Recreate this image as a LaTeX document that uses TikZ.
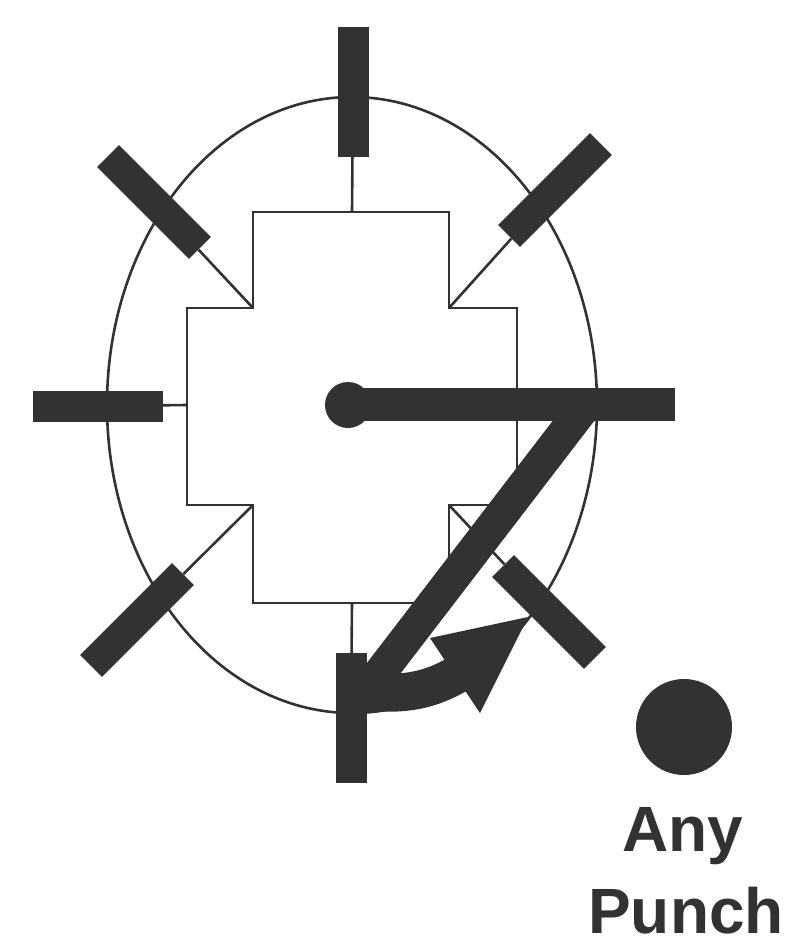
\documentclass[tikz,border=0pt]{standalone}
\usepackage{fontspec}
\setmainfont{Liberation Sans}
\definecolor{ink}{HTML}{323232}
\begin{document}
\begin{tikzpicture}[x=1pt,y=-1pt,
  thinline/.style={draw=ink, line width=2.6pt},
  bar/.style={rectangle, fill=ink, draw=none, inner sep=0pt, minimum width=130pt, minimum height=31pt},
  label/.style={font=\bfseries\fontsize{64}{76}\selectfont, text=ink, anchor=base, inner sep=0pt}
]
\useasboundingbox (0,0) rectangle (796,948);
\fill[white] (0,0) rectangle (796,948);
% outer ellipse
\draw[thinline] (352,405) ellipse [x radius=245pt, y radius=308pt];
% cross outline
\draw[thinline, line join=miter] (253,212) -- (449,212) -- (449,308) -- (517,308) -- (517,505) -- (449,505) -- (449,603) -- (253,603) -- (253,505) -- (187,505) -- (187,308) -- (253,308) -- cycle;
\coordinate (ctop) at (352,212);
\coordinate (cbot) at (352,603);
\coordinate (cleft) at (187,405);
\coordinate (ctl) at (253,308);
\coordinate (ctr) at (449,308);
\coordinate (cbl) at (253,505);
\coordinate (cbr) at (449,505);
% bars
\node[bar, rotate=90] (top) at (353,92) {};
\node[bar, rotate=90] (bottom) at (351,718) {};
\node[bar] (left) at (98,406) {};
\node[bar, rotate=-45] (tl) at (154,202) {};
\node[bar, rotate=45] (tr) at (555,190) {};
\node[bar, rotate=45] (bl) at (137,620) {};
\node[bar, rotate=-45] (br) at (549,612) {};
% stubs
\draw[thinline] (top) -- (ctop);
\draw[thinline] (bottom) -- (cbot);
\draw[thinline] (left) -- (cleft);
\draw[thinline] (tl) -- (ctl);
\draw[thinline] (tr) -- (ctr);
\draw[thinline] (bl) -- (cbl);
\draw[thinline] (br) -- (cbr);
% diagonal bar
\coordinate (dtop) at (591,398);
\coordinate (dbot) at (367,690);
\draw[ink, line width=33pt] (dtop) -- (dbot);
% right bar with ball
\node[bar, minimum width=327pt, minimum height=33pt] (rbar) at (511.5,404.5) {};
\node[circle, fill=ink, inner sep=0pt, minimum size=46pt] (ball) at (348,405) {};
% curved arrow
\coordinate (ashaft) at (360,691);
\coordinate (abase) at (458,674);
\draw[ink, line width=38pt] (ashaft) .. controls (405,696) and (430,690) .. (abase);
\fill[ink] (528,617) -- (430,638) -- (480,713) -- cycle;
% legend
\node[circle, fill=ink, inner sep=0pt, minimum size=96pt] (dot) at (684,727) {};
\node[label] (any) at (683,851) {Any};
\node[label] (punch) at (686,933) {Punch};
\end{tikzpicture}
\end{document}
